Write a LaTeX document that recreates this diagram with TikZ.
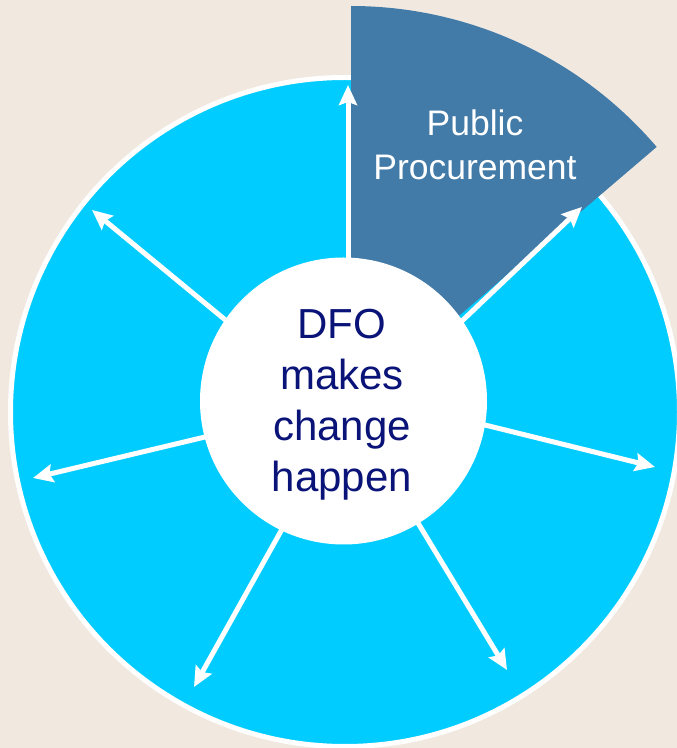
\documentclass[tikz,border=0pt]{standalone}
\usepackage{fontspec}
\setmainfont{Liberation Sans}
\usetikzlibrary{arrows.meta}
\definecolor{bgc}{RGB}{241,233,224}
\definecolor{ringc}{RGB}{0,204,255}
\definecolor{secc}{RGB}{66,123,168}
\definecolor{txtc}{RGB}{10,20,120}
\begin{document}
\begin{tikzpicture}[x=1pt,y=1pt,
  arr/.style={draw=white, line width=5pt, -{Stealth[length=20pt,width=18pt,inset=3pt]}, shorten <=-15pt},
  ringstyle/.style={circle, fill=ringc, draw=white, line width=5pt, minimum size=669pt, inner sep=0pt},
  hubstyle/.style={circle, fill=white, minimum size=287pt, inner sep=0pt},
  hubtext/.style={font=\fontsize{42}{51}\selectfont, text=txtc, align=center, inner sep=0pt},
  pptext/.style={font=\fontsize{35.5}{44}\selectfont, text=white, align=center, inner sep=0pt}]
\useasboundingbox (0,0) rectangle (677,748);
\fill[bgc] (0,0) rectangle (677,748);
\node[ringstyle] (ring) at (345,336) {};
\coordinate (apex) at (351,340);
\fill[secc] (apex) -- (351,742) arc[start angle=90, end angle=40.5, radius=402] -- cycle;
% arrow coordinates
\coordinate (s1) at (348,490); \coordinate (t1) at (348,663);
\coordinate (s2) at (463,428); \coordinate (t2) at (582,541);
\coordinate (s3) at (485,323); \coordinate (t3) at (655,281);
\coordinate (s4) at (418,225); \coordinate (t4) at (507,78);
\coordinate (s5) at (281,217); \coordinate (t5) at (194,61);
\coordinate (s6) at (205,311); \coordinate (t6) at (33,270);
\coordinate (s7) at (223,430); \coordinate (t7) at (92,538);
\foreach \i in {1,...,7} { \draw[arr] (s\i) -- (t\i); }
\node[hubstyle] (hub) at (343.5,347) {};
\node[hubtext] (hublabel) at (342,343) {DFO\\makes\\change\\happen};
\node[pptext] (pp) at (475,603) {Public\\Procurement};
\end{tikzpicture}
\end{document}
